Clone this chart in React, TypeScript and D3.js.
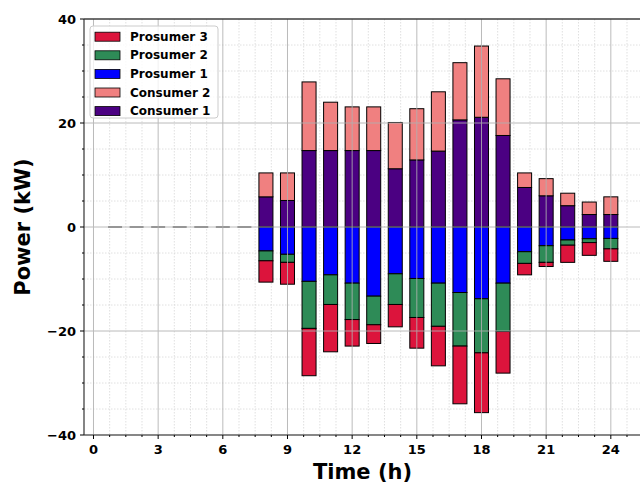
import React from "react";
import * as d3 from "d3";

const hours = d3.range(1, 25);
// Consumer values (positive), prosumer values (negative), hours 1..24
const consumer1 = [0, 0, 0, 0, 0, 0, 0, 5.8, 5.1, 14.7, 14.7, 14.7, 14.7, 11.2, 12.9, 14.6, 20.6, 21.1, 17.6, 7.6, 6.0, 4.1, 2.4, 2.4];
const consumer2 = [0, 0, 0, 0, 0, 0, 0, 4.6, 5.3, 13.2, 9.3, 8.4, 8.4, 8.9, 9.85, 11.4, 11.0, 13.7, 10.9, 2.8, 3.3, 2.4, 2.4, 3.4];
const prosumer1 = [0, 0, 0, 0, 0, 0, 0, -4.6, -5.25, -10.45, -9.2, -10.8, -13.3, -9.0, -9.9, -10.8, -12.6, -13.8, -10.8, -4.75, -3.6, -2.5, -2.25, -2.2];
const prosumer2 = [0, 0, 0, 0, 0, 0, 0, -1.9, -1.55, -9.05, -5.7, -7.0, -5.5, -5.9, -7.5, -8.3, -10.3, -10.4, -9.3, -2.25, -3.2, -1.0, -0.75, -2.0];
const prosumer3 = [0, 0, 0, 0, 0, 0, 0, -4.1, -4.2, -9.1, -9.1, -5.1, -3.6, -4.3, -5.9, -7.6, -11.1, -11.5, -8.0, -2.2, -0.8, -3.3, -2.45, -2.4];

const positiveSeries = [
  { name: "Consumer 1", values: consumer1, color: "#4B0082" },
  { name: "Consumer 2", values: consumer2, color: "#F08080" },
];
const negativeSeries = [
  { name: "Prosumer 1", values: prosumer1, color: "#0000FF" },
  { name: "Prosumer 2", values: prosumer2, color: "#2E8B57" },
  { name: "Prosumer 3", values: prosumer3, color: "#DC143C" },
];
const legendItems = [
  { name: "Prosumer 3", color: "#DC143C" },
  { name: "Prosumer 2", color: "#2E8B57" },
  { name: "Prosumer 1", color: "#0000FF" },
  { name: "Consumer 2", color: "#F08080" },
  { name: "Consumer 1", color: "#4B0082" },
];
const xTicks = [0, 3, 6, 9, 12, 15, 18, 21, 24];
const yTicks = [-40, -20, 0, 20, 40];

const W = 640, H = 483;
const L = 84, R = 641, T = 19, B = 435;
const FONT = "DejaVu Sans, sans-serif";

export default function App() {
  const x = d3.scaleLinear().domain([-0.44, 25.4]).range([L, R]);
  const y = d3.scaleLinear().domain([-40, 40]).range([B, T]);
  const bw = 0.65;
  const xMinor = d3.range(0, 25.5, 0.75).filter((v) => !xTicks.includes(v) && x(v) > L && x(v) < R);
  const yMinor = d3.range(-40, 41, 5).filter((v) => !yTicks.includes(v));
  const fmt = d3.format("d");

  const rects: any[] = [];
  hours.forEach((h, i) => {
    const total = positiveSeries.reduce((s, se) => s + se.values[i], 0) + negativeSeries.reduce((s, se) => s + Math.abs(se.values[i]), 0);
    if (total === 0) {
      rects.push(
        <line key={"z" + h} x1={x(h - bw / 2)} x2={x(h + bw / 2)} y1={y(0)} y2={y(0)} stroke="#666" strokeWidth={1.6} />
      );
      return;
    }
    let acc = 0;
    positiveSeries.forEach((se) => {
      const v = se.values[i];
      rects.push(
        <rect key={se.name + h} x={x(h - bw / 2)} width={x(bw) - x(0)} y={y(acc + v)} height={y(acc) - y(acc + v)} fill={se.color} stroke="#000" strokeWidth={1} />
      );
      acc += v;
    });
    acc = 0;
    negativeSeries.forEach((se) => {
      const v = se.values[i];
      rects.push(
        <rect key={se.name + h} x={x(h - bw / 2)} width={x(bw) - x(0)} y={y(acc)} height={y(acc + v) - y(acc)} fill={se.color} stroke="#000" strokeWidth={1} />
      );
      acc += v;
    });
  });

  return (
    <div style={{ position: "fixed", left: 0, top: 0 }}>
      <svg width={W} height={H} style={{ display: "block", background: "#fff" }}>
        <defs>
          <clipPath id="plot">
            <rect x={L} y={T} width={R - L} height={B - T} />
          </clipPath>
        </defs>
        {/* minor grid */}
        <g stroke="#d8d8d8" strokeWidth={0.8} strokeDasharray="1.5,1.5">
          {xMinor.map((v) => (
            <line key={"xm" + v} x1={x(v)} x2={x(v)} y1={T} y2={B} />
          ))}
          {yMinor.map((v) => (
            <line key={"ym" + v} x1={L} x2={R} y1={y(v)} y2={y(v)} />
          ))}
        </g>
        <g clipPath="url(#plot)">{rects}</g>
        {/* major grid on top */}
        <g stroke="#b0b0b0" strokeWidth={1} opacity={0.85}>
          {xTicks.map((v) => (
            <line key={"xg" + v} x1={x(v)} x2={x(v)} y1={T} y2={B} />
          ))}
          {yTicks.map((v) => (
            <line key={"yg" + v} x1={L} x2={R} y1={y(v)} y2={y(v)} />
          ))}
        </g>
        {/* spines */}
        <line x1={L} x2={R} y1={T} y2={T} stroke="#000" strokeWidth={1.2} />
        <line x1={L} x2={R} y1={B} y2={B} stroke="#333" strokeWidth={1.2} />
        <line x1={L} x2={L} y1={T} y2={B} stroke="#333" strokeWidth={1.2} />
        {/* ticks */}
        <g stroke="#000" strokeWidth={1}>
          {xTicks.map((v) => (
            <line key={"xt" + v} x1={x(v)} x2={x(v)} y1={B} y2={B + 4} />
          ))}
          {xMinor.map((v) => (
            <line key={"xmt" + v} x1={x(v)} x2={x(v)} y1={B} y2={B + 2} />
          ))}
          {yTicks.map((v) => (
            <line key={"yt" + v} x1={L - 4} x2={L} y1={y(v)} y2={y(v)} />
          ))}
          {yMinor.map((v) => (
            <line key={"ymt" + v} x1={L - 2} x2={L} y1={y(v)} y2={y(v)} />
          ))}
        </g>
        <g fontFamily={FONT} fontWeight="bold" fontSize={13} fill="#000">
          {xTicks.map((v) => (
            <text key={"xl" + v} x={x(v)} y={B + 19} textAnchor="middle">
              {fmt(v)}
            </text>
          ))}
          {yTicks.map((v) => (
            <text key={"yl" + v} x={L - 8} y={y(v)} textAnchor="end" dominantBaseline="central">
              {fmt(v)}
            </text>
          ))}
        </g>
        <text x={(L + R) / 2} y={479} textAnchor="middle" fontFamily={FONT} fontWeight="bold" fontSize={21}>
          Time (h)
        </text>
        <text transform={`translate(30, ${(T + B) / 2}) rotate(-90)`} textAnchor="middle" fontFamily={FONT} fontWeight="bold" fontSize={21}>
          Power (kW)
        </text>
        {/* legend */}
        <g>
          <rect x={90} y={26} width={128} height={92} rx={3} fill="#fff" fillOpacity={0.8} stroke="#ccc" strokeWidth={1} />
          {legendItems.map((it, i) => {
            const cy = 36.7 + i * 18.6;
            return (
              <g key={it.name}>
                <rect x={95} y={cy - 4.5} width={25} height={9} fill={it.color} stroke="#000" strokeWidth={0.8} />
                <text x={130} y={cy} dominantBaseline="central" fontFamily={FONT} fontWeight="bold" fontSize={12}>
                  {it.name}
                </text>
              </g>
            );
          })}
        </g>
      </svg>
    </div>
  );
}
